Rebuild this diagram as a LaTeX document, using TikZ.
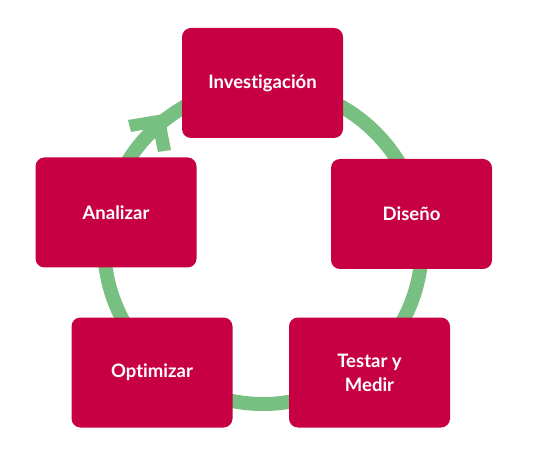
\documentclass[tikz,border=0pt]{standalone}
\usepackage{fontspec}
\setmainfont{Lato}[Ligatures={NoCommon}]
\definecolor{crimson}{RGB}{199,0,68}
\definecolor{leaf}{RGB}{120,192,130}
\begin{document}
\begin{tikzpicture}[x=1pt,y=1pt,
  stage/.style={fill=crimson, draw=none, rounded corners=9pt, minimum width=161pt, minimum height=110pt,
    inner sep=0pt, text=white, font=\fontsize{18.5}{24}\selectfont\bfseries, align=center},
  ring/.style={draw=leaf, line width=14pt}]
\useasboundingbox (0,0) rectangle (534,471);
\coordinate (c) at (263,226);
\draw[ring] (c) ++(132:159) arc[start angle=132, end angle=-235, radius=159];
\fill[leaf] (164,357) -- (128,351) -- (131,339) -- (153,343) -- (158,319) -- (171,321) -- cycle;
\node[stage] (inv) at (262.5,388) {Investigación};
\node[stage] (ana) at (116,258.5) {Analizar};
\node[stage] (dis) at (411.5,257) {Diseño};
\node[stage] (opt) at (152,98.5) {Optimizar};
\node[stage] (tes) at (369.5,98.5) {Testar y\\Medir};
\end{tikzpicture}
\end{document}
